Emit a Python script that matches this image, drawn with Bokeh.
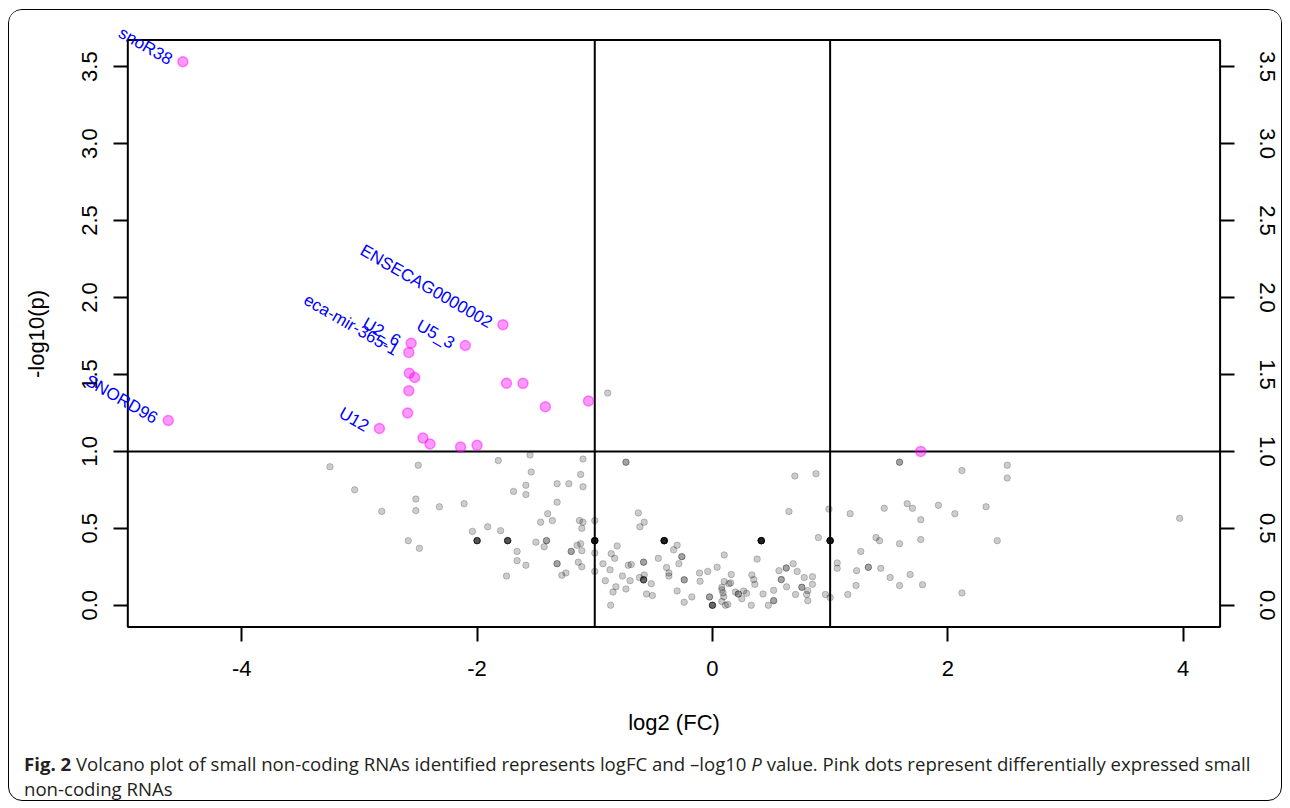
import numpy as np
from bokeh.plotting import figure
from bokeh.models import Range1d, LinearAxis, FixedTicker, Div, ColumnDataSource, LabelSet
from bokeh.layouts import column
from bokeh.core.properties import value
from bokeh.embed import file_html
from bokeh.resources import INLINE

# ---------------- data ----------------
# non-significant small RNAs: log2FC, -log10(p), multiplicity (identical values)
gray_fc = [-3.25, -2.50, -1.82, -1.55, -1.10, -1.54, -1.12, -1.585, -1.32, -1.22,
           -1.10, -1.69, -1.585, -3.04, -1.32, -2.52, -2.11, -2.32, -2.81, -2.52,
           -1.40, -1.46, -1.36, -1.13, -1.10, -1.00, -1.11, -2.04, -1.91, -1.80,
           -2.00, -1.74, -1.41, -1.00, -2.585, -2.49, -1.50, -1.43, -1.66, -1.20,
           -1.15, -1.12, -1.11, -1.00, -0.81, -0.86, -0.83, -1.66, -1.585, -1.32,
           -1.14, -1.11, -1.00, -0.93, -0.87, -1.28, -1.245, -1.75, -0.91, -0.82,
           -0.845, -0.865, -0.89,
           -0.735, 1.59, 0.70, 0.88, 0.65, 0.99, 1.17, 1.46, 1.655, 1.70,
           -0.63, -0.58, -0.616, -0.41, 0.415, 1.00, 0.90, 1.39, 1.42, 1.59,
           1.26, 1.325, 1.43, 1.51, 1.68, 1.59, 1.225, 1.22, 1.15, 1.06,
           1.06, 0.96, 1.00, -0.765, -0.735, -0.70, -0.715, -0.69, -0.585, -0.58,
           -0.585, -0.62, -0.52, -0.56, -0.51, -0.46, -0.33, -0.30, -0.26, -0.285,
           -0.39, -0.37, -0.37, -0.30, -0.24, -0.24, -0.175, -0.11, -0.105, -0.04,
           0.04, 0.10, -0.025, 0.00, 0.08, 0.08, 0.10, 0.14, 0.155, 0.16,
           0.09, 0.096, 0.08, 0.11, 0.13, 0.195, 0.22, 0.265, 0.29, 0.25,
           0.335, 0.35, 0.36, 0.38, 0.33, 0.43, 0.475, 0.52, 0.52, 0.565,
           0.585, 0.627, 0.63, 0.686, 0.72, 0.706, 0.76, 0.78, 0.80, 0.81,
           0.81, 0.85, 0.85,
           2.12, 2.505, 2.505, 1.92, 2.06, 2.325, 1.77, 3.97, 1.77, 2.42,
           1.785, 2.12]
gray_p = [0.90, 0.91, 0.94, 0.976, 0.95, 0.866, 0.85, 0.78, 0.79, 0.79,
          0.77, 0.74, 0.72, 0.75, 0.67, 0.69, 0.66, 0.64, 0.61, 0.615,
          0.595, 0.54, 0.55, 0.55, 0.54, 0.55, 0.50, 0.48, 0.51, 0.485,
          0.42, 0.42, 0.42, 0.42, 0.42, 0.37, 0.41, 0.38, 0.35, 0.35,
          0.39, 0.40, 0.355, 0.34, 0.385, 0.335, 0.305, 0.29, 0.26, 0.27,
          0.28, 0.25, 0.22, 0.27, 0.23, 0.195, 0.21, 0.19, 0.16, 0.12,
          0.086, 0.0, 1.379,
          0.93, 0.93, 0.84, 0.855, 0.61, 0.625, 0.595, 0.63, 0.66, 0.63,
          0.60, 0.54, 0.51, 0.42, 0.42, 0.42, 0.44, 0.44, 0.42, 0.40,
          0.35, 0.247, 0.24, 0.18, 0.20, 0.128, 0.225, 0.128, 0.07, 0.275,
          0.24, 0.07, 0.05, 0.19, 0.106, 0.16, 0.26, 0.265, 0.28, 0.197,
          0.165, 0.18, 0.14, 0.073, 0.063, 0.305, 0.36, 0.39, 0.316, 0.27,
          0.245, 0.21, 0.19, 0.093, 0.165, 0.02, 0.054, 0.21, 0.156, 0.22,
          0.247, 0.327, 0.054, 0.0, 0.117, 0.10, 0.154, 0.14, 0.145, 0.20,
          0.08, 0.056, 0.024, 0.0, 0.005, 0.086, 0.073, 0.093, 0.078, 0.043,
          0.197, 0.167, 0.136, 0.30, 0.0, 0.073, 0.0, 0.097, 0.03, 0.225,
          0.167, 0.242, 0.12, 0.27, 0.22, 0.07, 0.117, 0.18, 0.07, 0.095,
          0.03, 0.186, 0.136,
          0.875, 0.91, 0.827, 0.65, 0.595, 0.64, 0.556, 0.565, 0.427, 0.42,
          0.134, 0.08]
gray_n = [1, 1, 1, 1, 1, 1, 1, 1, 1, 1,
          1, 1, 1, 1, 1, 1, 1, 1, 1, 1,
          1, 1, 1, 1, 1, 1, 1, 1, 1, 1,
          5, 5, 2, 9, 1, 1, 1, 1, 1, 2,
          1, 1, 1, 1, 1, 1, 1, 1, 1, 2,
          1, 1, 1, 1, 1, 1, 1, 1, 1, 1,
          1, 1, 1,
          2, 2, 1, 1, 1, 1, 1, 1, 1, 1,
          1, 1, 1, 9, 9, 9, 1, 1, 1, 1,
          1, 2, 1, 1, 1, 1, 1, 1, 1, 1,
          1, 1, 1, 1, 1, 1, 1, 1, 2, 1,
          4, 1, 1, 1, 1, 1, 1, 1, 2, 1,
          1, 1, 1, 1, 2, 1, 1, 1, 1, 1,
          1, 1, 2, 4, 1, 1, 1, 1, 1, 1,
          1, 1, 1, 1, 1, 1, 2, 1, 1, 1,
          1, 1, 1, 1, 1, 1, 1, 1, 2, 1,
          2, 2, 1, 1, 1, 1, 2, 1, 1, 1,
          1, 1, 1,
          1, 1, 1, 1, 1, 1, 1, 1, 1, 1,
          1, 1]

# differentially expressed small RNAs (pink)
de_fc = [-4.50, -4.624, -2.83, -1.78, -2.10, -2.56, -2.58,
         -2.576, -2.53, -2.58, -2.59, -2.46, -2.40, -2.14, -2.00,
         -1.75, -1.61, -1.42, -1.053, 1.77]
de_p = [3.532, 1.201, 1.149, 1.823, 1.688, 1.703, 1.643,
        1.508, 1.48, 1.394, 1.249, 1.087, 1.048, 1.028, 1.039,
        1.443, 1.442, 1.29, 1.327, 1.00]
de_label = ["snoR38", "SNORD96", "U12", "ENSECAG0000002", "U5_3", "U2_6", "eca-mir-365-1",
            "", "", "", "", "", "", "", "",
            "", "", "", "", ""]

x_ticks = [-4, -2, 0, 2, 4]
y_ticks = [0.0, 0.5, 1.0, 1.5, 2.0, 2.5, 3.0, 3.5]
fc_cut = [-1, 1]
p_cut = 1.0

# ---------------- plot box (R style: data range + 4%) ----------------
all_x = np.concatenate([gray_fc, de_fc])
all_y = np.concatenate([gray_p, de_p])
xr = all_x.max() - all_x.min()
yr = all_y.max() - all_y.min()
xlim = [float(all_x.min() - 0.04 * xr), float(all_x.max() + 0.04 * xr)]
ylim = [float(all_y.min() - 0.04 * yr), float(all_y.max() + 0.04 * yr)]

# canvas geometry (pixels): the drawing frame covers the whole canvas so that
# point labels may spill outside the box, as in the original
W, H = 1274, 736
BOX_L, BOX_R, BOX_T, BOX_B = 118.5, 1212.5, 29.5, 616.5
ppx = (BOX_R - BOX_L) / (xlim[1] - xlim[0])
ppy = (BOX_B - BOX_T) / (ylim[1] - ylim[0])
x_range = Range1d(xlim[0] - BOX_L / ppx, xlim[1] + (W - BOX_R) / ppx)
y_range = Range1d(ylim[0] - (H - BOX_B) / ppy, ylim[1] + BOX_T / ppy)

FONT = "Liberation Sans"
p = figure(width=W, height=H, output_backend="svg", toolbar_location=None,
           x_range=x_range, y_range=y_range,
           x_axis_location=None, y_axis_location=None,
           min_border=0, min_border_left=0, min_border_right=0,
           min_border_top=0, min_border_bottom=0,
           background_fill_color="white", border_fill_color="white")
p.xgrid.grid_line_color = None
p.ygrid.grid_line_color = None
p.outline_line_color = None

xaxis = LinearAxis(fixed_location=ylim[0], ticker=FixedTicker(ticks=x_ticks),
                   bounds=(xlim[0], xlim[1]), axis_label="log2 (FC)")
xaxis.major_label_overrides = {t: str(t) for t in x_ticks}
yaxis_l = LinearAxis(fixed_location=xlim[0], ticker=FixedTicker(ticks=y_ticks),
                     bounds=(ylim[0], ylim[1]), axis_label="-log10(p)")
yaxis_r = LinearAxis(fixed_location=xlim[1], ticker=FixedTicker(ticks=y_ticks),
                     bounds=(ylim[0], ylim[1]))
p.add_layout(xaxis, "below")
p.add_layout(yaxis_l, "left")
p.add_layout(yaxis_r, "right")

for ax in [xaxis, yaxis_l, yaxis_r]:
    ax.axis_line_color = None
    ax.major_tick_line_color = "black"
    ax.major_tick_line_width = 2
    ax.major_tick_out = 14
    ax.major_tick_in = 0
    ax.minor_tick_line_color = None
    ax.major_label_text_font = FONT
    ax.major_label_text_font_size = "22px"
    ax.major_label_text_color = "black"
    ax.axis_label_text_font = FONT
    ax.axis_label_text_font_size = "22px"
    ax.axis_label_text_font_style = "normal"
    ax.axis_label_text_color = "black"

xaxis.major_label_standoff = 20
xaxis.axis_label_standoff = 30
for ax in [yaxis_l, yaxis_r]:
    ax.major_label_overrides = {t: f"{t:.1f}" for t in y_ticks}
    ax.major_label_orientation = "vertical"
yaxis_l.major_label_standoff = 17
yaxis_l.axis_label_standoff = 30
yaxis_r.major_label_standoff = 26

# box and threshold lines
p.quad(left=[xlim[0]], right=[xlim[1]], bottom=[ylim[0]], top=[ylim[1]],
       fill_color=None, line_color="black", line_width=2)
p.segment(x0=fc_cut, y0=[ylim[0]] * len(fc_cut), x1=fc_cut, y1=[ylim[1]] * len(fc_cut),
          line_color="black", line_width=2)
p.segment(x0=[xlim[0]], y0=[p_cut], x1=[xlim[1]], y1=[p_cut],
          line_color="black", line_width=2)

gx = np.repeat(np.array(gray_fc), gray_n)
gy = np.repeat(np.array(gray_p), gray_n)
p.scatter(x=gx, y=gy, size=6.5, fill_color="black", fill_alpha=0.2,
          line_color="black", line_alpha=0.2, line_width=1)

src = ColumnDataSource(dict(x=de_fc, y=de_p, label=de_label))
p.scatter(x="x", y="y", source=src, size=10, fill_color="#FF00FF", fill_alpha=0.4,
          line_color="#FF00FF", line_alpha=0.45, line_width=1.5)
labels = LabelSet(x="x", y="y", text="label", source=src, angle=-30, angle_units="deg",
                  text_align="right", text_baseline="middle", x_offset=-12, y_offset=1,
                  text_color="blue", text_font=value(FONT), text_font_size="17px")
p.add_layout(labels)

caption = Div(
    text=('<b>Fig. 2</b> Volcano plot of small non-coding RNAs identified represents logFC '
          'and \u2013log10 <i>P</i> value. Pink dots represent differentially expressed small '
          'non-coding RNAs'),
    width=1254, height=56,
    styles={"font-family": "'Open Sans'", "font-size": "18.6px", "line-height": "25px",
            "color": "#231f20", "padding-left": "10px", "padding-top": "0px"})

layout = column(p, caption, width=1274, height=792,
                styles={"border": "1.5px solid black", "border-radius": "14px",
                        "overflow": "hidden", "background": "white",
                        "margin": "9px 0 0 8px"})

open("out.html", "w").write(file_html(layout, INLINE))
